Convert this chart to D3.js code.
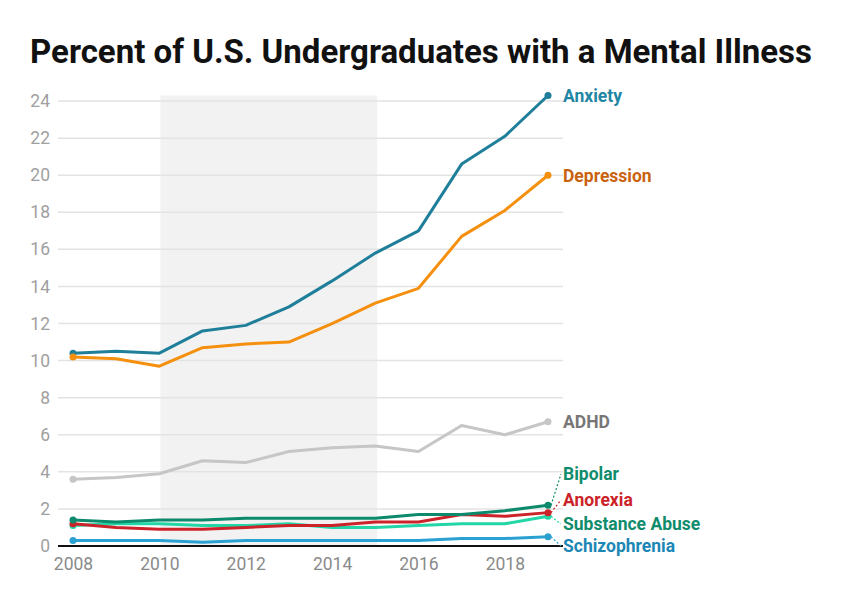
<!DOCTYPE html>
<html>
<head>
<meta charset="utf-8">
<script src="https://cdn.jsdelivr.net/npm/d3@7"></script>
<style>
  body { margin: 0; background: #fff; }
  svg { font-family: Roboto, "Noto Sans", sans-serif; }
</style>
</head>
<body>
<div id="chart"></div>
<script>
"use strict";

// data
var years = [2008, 2009, 2010, 2011, 2012, 2013, 2014, 2015, 2016, 2017, 2018, 2019];
var anxiety = [10.4, 10.5, 10.4, 11.6, 11.9, 12.9, 14.3, 15.8, 17.0, 20.6, 22.1, 24.3];
var depression = [10.2, 10.1, 9.7, 10.7, 10.9, 11.0, 12.0, 13.1, 13.9, 16.7, 18.1, 20.0];
var adhd = [3.6, 3.7, 3.9, 4.6, 4.5, 5.1, 5.3, 5.4, 5.1, 6.5, 6.0, 6.7];
var bipolar = [1.4, 1.3, 1.4, 1.4, 1.5, 1.5, 1.5, 1.5, 1.7, 1.7, 1.9, 2.2];
var anorexia = [1.2, 1.0, 0.9, 0.9, 1.0, 1.1, 1.1, 1.3, 1.3, 1.7, 1.6, 1.8];
var substanceAbuse = [1.1, 1.2, 1.2, 1.1, 1.1, 1.2, 1.0, 1.0, 1.1, 1.2, 1.2, 1.6];
var schizophrenia = [0.3, 0.3, 0.3, 0.2, 0.3, 0.3, 0.3, 0.3, 0.3, 0.4, 0.4, 0.5];

var yTicks = [0, 2, 4, 6, 8, 10, 12, 14, 16, 18, 20, 22, 24];
var xTicks = [2008, 2010, 2012, 2014, 2016, 2018];
var shadeYears = [2010, 2015];

var series = [
  { name: "Anxiety", values: anxiety, line: "#1f7f9b", text: "#1f86a3", labelY: 96 },
  { name: "Depression", values: depression, line: "#f5900f", text: "#c9620f", labelY: 176 },
  { name: "ADHD", values: adhd, line: "#c6c6c6", text: "#777777", labelY: 422 },
  { name: "Substance Abuse", values: substanceAbuse, line: "#22d6a6", text: "#0f8c6c", labelY: 524, leader: true },
  { name: "Schizophrenia", values: schizophrenia, line: "#2aa1d1", text: "#1c87b5", labelY: 546, leader: true },
  { name: "Anorexia", values: anorexia, line: "#cc2229", text: "#cc2229", labelY: 500, leader: true },
  { name: "Bipolar", values: bipolar, line: "#0d8a6c", text: "#0f8c6c", labelY: 474, leader: true }
];

var W = 841, H = 595;
var svg = d3.select("#chart").append("svg")
  .attr("width", W)
  .attr("height", H);

// title
svg.append("text")
  .attr("x", 30)
  .attr("y", 63)
  .style("font-size", "33px")
  .style("font-weight", 700)
  .style("fill", "#111")
  .text("Percent of U.S. Undergraduates with a Mental Illness");

var x = d3.scaleLinear().domain([2008, 2019]).range([73, 548]);
var y = d3.scaleLinear().domain([0, 24.3]).range([546, 95.5]);
var gridLeft = 58, gridRight = 563;

// shaded period
svg.append("rect")
  .attr("x", x(shadeYears[0]) + 1)
  .attr("y", y(y.domain()[1]))
  .attr("width", x(shadeYears[1]) - x(shadeYears[0]) + 1)
  .attr("height", y(0) - y(y.domain()[1]))
  .style("fill", "#f2f2f2");

// gridlines
svg.append("g").selectAll("line")
  .data(yTicks.filter(function (d) { return d > 0; }))
  .enter().append("line")
  .attr("x1", gridLeft)
  .attr("x2", gridRight)
  .attr("y1", function (d) { return y(d); })
  .attr("y2", function (d) { return y(d); })
  .style("stroke", "#e3e3e3")
  .style("stroke-width", 1.5);

// y axis labels
var yAxis = d3.axisLeft(y).tickValues(yTicks).tickSize(0).tickPadding(0);
svg.append("g")
  .attr("transform", "translate(50,0)")
  .call(yAxis)
  .call(function (g) { g.select(".domain").remove(); })
  .selectAll("text")
  .style("font-family", "Roboto, sans-serif")
  .style("font-size", "17.5px")
  .style("fill", "#a0a0a0");

// x axis labels
var xAxis = d3.axisBottom(x).tickValues(xTicks).tickFormat(d3.format("d")).tickSize(0).tickPadding(0);
svg.append("g")
  .attr("transform", "translate(0,558)")
  .call(xAxis)
  .call(function (g) { g.select(".domain").remove(); })
  .selectAll("text")
  .style("font-family", "Roboto, sans-serif")
  .style("font-size", "17.5px")
  .style("fill", "#8a8a8a");

var line = d3.line()
  .x(function (d, i) { return x(years[i]); })
  .y(function (d) { return y(d); });

var lines = svg.append("g");
series.forEach(function (s) {
  lines.append("path")
    .datum(s.values)
    .attr("d", line)
    .style("fill", "none")
    .style("stroke", s.line)
    .style("stroke-width", 3)
    .style("stroke-linejoin", "round");

  var ends = [0, s.values.length - 1];
  lines.selectAll(null)
    .data(ends)
    .enter().append("circle")
    .attr("cx", function (i) { return x(years[i]); })
    .attr("cy", function (i) { return y(s.values[i]); })
    .attr("r", 3.5)
    .style("fill", s.line);
});

// zero line
svg.append("line")
  .attr("x1", gridLeft)
  .attr("x2", gridRight)
  .attr("y1", y(0))
  .attr("y2", y(0))
  .style("stroke", "#111")
  .style("stroke-width", 2);

// labels + dotted leaders
var last = years.length - 1;
series.forEach(function (s) {
  if (s.leader) {
    svg.append("line")
      .attr("x1", x(years[last]) + 3)
      .attr("y1", y(s.values[last]))
      .attr("x2", 561)
      .attr("y2", s.labelY)
      .style("stroke", s.line)
      .style("stroke-width", 1.2)
      .style("stroke-dasharray", "2,2");
  }
  svg.append("text")
    .attr("x", 563)
    .attr("y", s.labelY)
    .attr("dy", "0.35em")
    .style("font-size", "17.5px")
    .style("font-weight", 700)
    .style("fill", s.text)
    .text(s.name);
});
</script>
</body>
</html>
